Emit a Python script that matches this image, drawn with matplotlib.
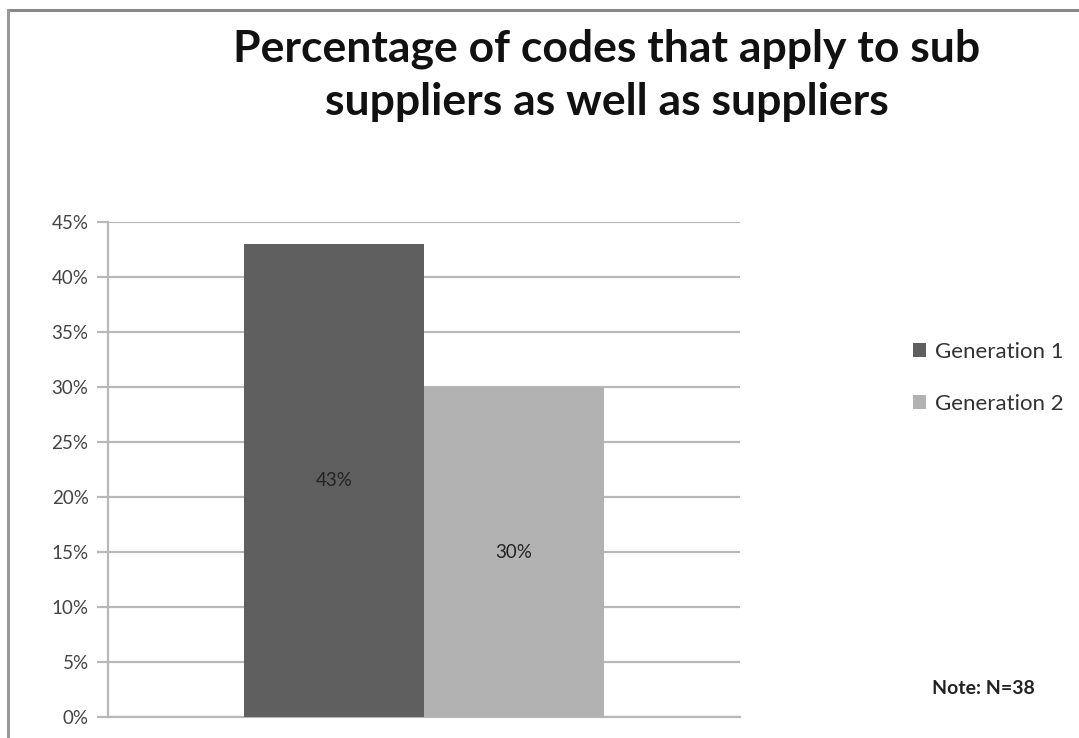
import matplotlib
matplotlib.use("Agg")
import matplotlib.pyplot as plt
from matplotlib.patches import Patch
from matplotlib.lines import Line2D
from matplotlib.ticker import FuncFormatter, MultipleLocator

series = ["Generation 1", "Generation 2"]
values = [0.43, 0.30]
labels = ["43%", "30%"]
colors = ["#5f5f5f", "#b2b2b2"]
title = "Percentage of codes that apply to sub\nsuppliers as well as suppliers"
note = "Note: N=38"

plt.rcParams['font.family'] = ['Lato', 'DejaVu Sans']

fig = plt.figure(figsize=(10.79, 7.38), dpi=100)
ax = fig.add_axes([108/1079, 21/738, 632/1079, 495/738])

bw = 180/632
offsets = [-bw/2, bw/2]
for s, v, lab, c, off in zip(series, values, labels, colors, offsets):
    ax.bar(off, v, width=bw, color=c, zorder=3, label=s)
    ax.text(off, v/2, lab, ha='center', va='center', fontsize=13.5, color='#222222', zorder=4)

ax.set_xlim(-0.5, 0.5)
ax.set_ylim(0, 0.45)
ax.yaxis.set_major_locator(MultipleLocator(0.05))
ax.yaxis.set_major_formatter(FuncFormatter(lambda y, p: f"{y*100:.0f}%"))
ax.set_xticks([])
ax.grid(axis='y', color='#b8b8b8', linewidth=1.6, zorder=0)
for side in ['top', 'right']:
    ax.spines[side].set_visible(False)
ax.spines['left'].set_color('#b8b8b8')
ax.spines['left'].set_linewidth(1.6)
ax.spines['bottom'].set_color('#b8b8b8')
ax.spines['bottom'].set_linewidth(1.6)
ax.tick_params(axis='y', length=8, width=1.6, color='#b8b8b8', labelsize=13.5, labelcolor='#444444', pad=6)

handles = [Patch(facecolor=c, edgecolor='none') for c in colors]
fig.legend(handles, series, loc='center left', bbox_to_anchor=(893/1079, 1 - 378/738),
           frameon=False, fontsize=16, handlelength=0.6, handleheight=0.6,
           handletextpad=0.4, labelspacing=1.45, labelcolor='#333333')

fig.text(607/1079, 1 - 75/738, title, ha='center', va='center', fontsize=32,
         fontweight='bold', color='#111111', linespacing=1.38)
fig.text(983/1079, 1 - 688/738, note, ha='center', va='center', fontsize=14,
         fontweight='bold', color='#222222')

# outer frame (top and left edges)
fig.add_artist(Line2D([8/1079, 1], [1 - 10/738, 1 - 10/738], transform=fig.transFigure,
                      color='#888888', linewidth=2.2))
fig.add_artist(Line2D([8/1079, 8/1079], [0, 1 - 10/738], transform=fig.transFigure,
                      color='#999999', linewidth=2.2))

fig.savefig("out.png", dpi=100)
